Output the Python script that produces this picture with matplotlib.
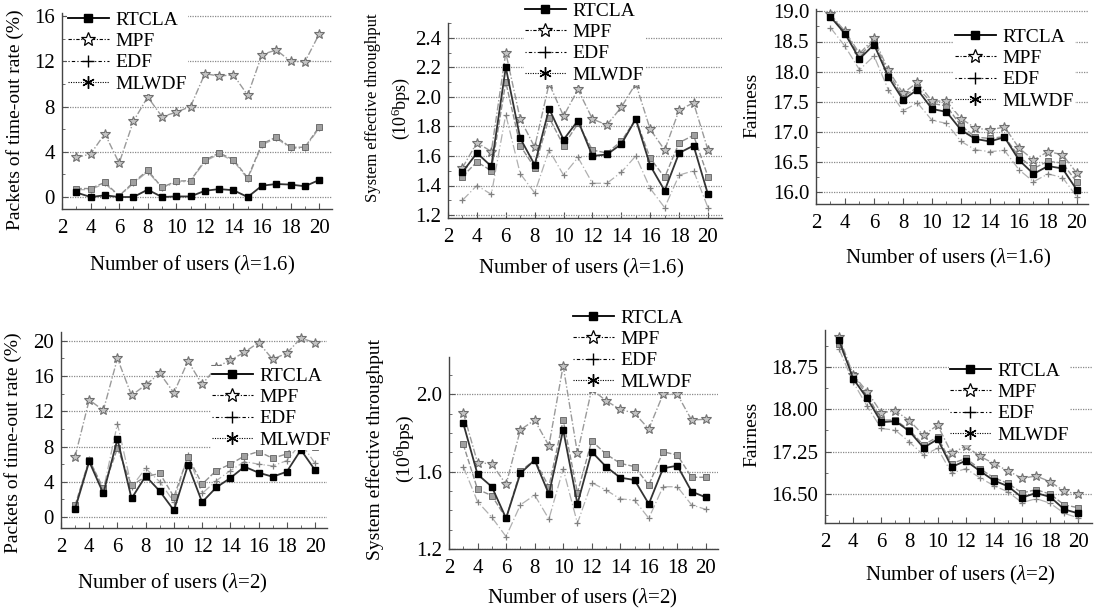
import matplotlib
matplotlib.use("Agg")
import matplotlib.pyplot as plt
from matplotlib.lines import Line2D
from matplotlib.ticker import MultipleLocator, FixedLocator, FormatStrFormatter

plt.rcParams['font.family'] = ['Liberation Serif', 'DejaVu Serif']
plt.rcParams['mathtext.fontset'] = 'custom'
plt.rcParams['mathtext.rm'] = 'Liberation Serif'
plt.rcParams['mathtext.it'] = 'Liberation Serif:italic'

W, H = 1101, 610

# ---------------- data ----------------
users = list(range(3, 21))
series_names = ["RTCLA", "MPF", "EDF", "MLWDF"]

# lambda = 1.6, packets of time-out rate (%)
rt1 = [0.4, 0.0, 0.15, 0.0, 0.0, 0.65, 0.0, 0.05, 0.05, 0.55, 0.7, 0.6, 0.0, 1.0, 1.15, 1.1, 0.95, 1.5]
mpf1 = [3.5, 3.8, 5.6, 3.0, 6.7, 8.85, 7.1, 7.5, 8.0, 10.9, 10.7, 10.8, 9.0, 12.6, 13.0, 12.0, 11.95, 14.4]
edf1 = [0.65, 0.65, 1.2, 0.05, 1.2, 2.25, 0.8, 1.3, 1.4, 3.15, 3.8, 3.2, 1.6, 4.6, 5.2, 4.3, 4.3, 6.1]
ml1 = [0.75, 0.75, 1.3, 0.1, 1.3, 2.35, 0.85, 1.4, 1.45, 3.25, 3.9, 3.3, 1.7, 4.7, 5.3, 4.4, 4.4, 6.2]

# lambda = 1.6, system effective throughput (10^6 bps)
rt2 = [1.49, 1.62, 1.53, 2.20, 1.72, 1.54, 1.92, 1.71, 1.84, 1.60, 1.61, 1.68, 1.85, 1.535, 1.365, 1.62, 1.67, 1.34]
mpf2 = [1.52, 1.69, 1.63, 2.30, 1.85, 1.66, 2.09, 1.87, 2.05, 1.85, 1.81, 1.93, 2.09, 1.78, 1.64, 1.91, 1.96, 1.64]
edf2 = [1.30, 1.40, 1.34, 1.88, 1.48, 1.35, 1.64, 1.47, 1.59, 1.415, 1.415, 1.49, 1.60, 1.38, 1.25, 1.47, 1.50, 1.25]
ml2 = [1.46, 1.56, 1.50, 2.10, 1.67, 1.52, 1.86, 1.67, 1.82, 1.64, 1.62, 1.70, 1.85, 1.585, 1.455, 1.69, 1.74, 1.46]

# lambda = 1.6, fairness
rt3 = [18.91, 18.63, 18.21, 18.45, 17.91, 17.53, 17.70, 17.38, 17.33, 17.03, 16.88, 16.84, 16.91, 16.53, 16.30, 16.43, 16.39, 16.03]
mpf3 = [18.95, 18.67, 18.30, 18.55, 18.02, 17.64, 17.82, 17.51, 17.51, 17.22, 17.06, 17.03, 17.08, 16.73, 16.53, 16.67, 16.62, 16.31]
edf3 = [18.73, 18.42, 18.03, 18.26, 17.69, 17.35, 17.48, 17.19, 17.14, 16.84, 16.70, 16.67, 16.69, 16.37, 16.17, 16.30, 16.24, 15.92]
ml3 = [18.93, 18.66, 18.26, 18.51, 17.97, 17.58, 17.74, 17.47, 17.43, 17.10, 16.91, 16.89, 16.92, 16.59, 16.39, 16.51, 16.48, 16.16]

# lambda = 2, packets of time-out rate (%)
rt4 = [0.95, 6.3, 2.67, 8.84, 2.1, 4.65, 2.93, 0.76, 5.9, 1.68, 3.35, 4.42, 5.71, 5.03, 4.57, 5.14, 7.62, 5.33]
mpf4 = [6.86, 13.3, 12.1, 18.0, 13.8, 15.0, 16.3, 14.1, 17.7, 15.05, 17.0, 17.8, 18.7, 19.8, 17.9, 18.6, 20.3, 19.8]
edf4 = [1.14, 6.55, 3.05, 10.6, 3.43, 5.52, 4.0, 1.71, 7.05, 2.67, 4.11, 5.26, 6.29, 6.0, 5.79, 6.4, 8.4, 6.1]
ml4 = [1.33, 6.5, 3.24, 7.8, 3.6, 4.57, 4.95, 2.29, 6.86, 3.73, 5.26, 6.0, 6.93, 7.43, 6.67, 7.16, 9.3, 8.0]

# lambda = 2, system effective throughput (10^6 bps)
rt5 = [1.85, 1.586, 1.522, 1.359, 1.591, 1.66, 1.484, 1.816, 1.433, 1.703, 1.626, 1.569, 1.557, 1.433, 1.617, 1.631, 1.497, 1.467]
mpf5 = [1.905, 1.647, 1.64, 1.534, 1.816, 1.867, 1.734, 2.148, 1.695, 2.026, 1.967, 1.922, 1.902, 1.821, 2.0, 2.0, 1.867, 1.871]
edf5 = [1.626, 1.445, 1.364, 1.264, 1.428, 1.479, 1.355, 1.614, 1.333, 1.543, 1.505, 1.459, 1.453, 1.359, 1.522, 1.522, 1.428, 1.405]
ml5 = [1.741, 1.509, 1.476, 1.359, 1.603, 1.66, 1.522, 1.867, 1.491, 1.759, 1.691, 1.643, 1.626, 1.531, 1.703, 1.686, 1.571, 1.571]

# lambda = 2, fairness
rt6 = [19.22, 18.54, 18.19, 17.77, 17.79, 17.61, 17.32, 17.47, 16.98, 17.09, 16.91, 16.74, 16.64, 16.44, 16.52, 16.45, 16.23, 16.16]
mpf6 = [19.28, 18.61, 18.31, 17.94, 17.97, 17.80, 17.54, 17.72, 17.22, 17.35, 17.17, 17.04, 16.91, 16.78, 16.82, 16.72, 16.55, 16.50]
edf6 = [19.06, 18.48, 18.05, 17.66, 17.63, 17.42, 17.19, 17.31, 16.87, 16.95, 16.79, 16.65, 16.54, 16.35, 16.42, 16.34, 16.16, 16.08]
ml6 = [19.16, 18.60, 18.25, 17.81, 17.81, 17.63, 17.37, 17.51, 17.04, 17.13, 16.95, 16.79, 16.69, 16.52, 16.58, 16.50, 16.31, 16.26]

x_ticks = [2, 4, 6, 8, 10, 12, 14, 16, 18, 20]
xlabel_16 = r'Number of users ($\mathit{\lambda}$=1.6)'
xlabel_2 = r'Number of users ($\mathit{\lambda}$=2)'
ylabel_timeout = 'Packets of time-out rate (%)'
ylabel_tp1 = 'System effective throughput'
ylabel_tp2 = r'(10$^{6}$bps)'
ylabel_fair = 'Fairness'

# ---------------- drawing ----------------
FS = 15       # tick labels and x labels
FS_LEG = 14
fig = plt.figure(figsize=(W / 100, H / 100), dpi=100)
fig.patch.set_facecolor('white')


def add_ax(l, r, t, b):
    return fig.add_axes([l / W, 1 - b / H, (r - l) / W, (b - t) / H])


def ftext(x, y, s, size=FS, **kw):
    fig.text(x / W, 1 - y / H, s, fontsize=size, ha='center', va='center', **kw)


styles = {
    "RTCLA": dict(color='#333333', lw=1.3, marker='s', ms=5, mfc='black', mec='black', zorder=5),
    "MPF": dict(color='#9a9a9a', lw=1.0, ls=(0, (5, 1.5, 1, 1.5)), marker='*', ms=7.5,
                mfc='#c4c4c4', mec='#707070', mew=0.8, zorder=4),
    "EDF": dict(color='#b0b0b0', lw=0.9, ls=(0, (7, 2, 1, 2)), marker='+', ms=5, mec='#808080',
                mew=0.9, zorder=3),
    "MLWDF": dict(color='#909090', lw=1.0, ls=(0, (4, 1.5)), marker='s', ms=3.8,
                  mfc='#a0a0a0', mec='#606060', mew=0.6, zorder=4),
}

leg_handles = [
    Line2D([], [], color='black', lw=1.3, marker='s', ms=6, mfc='black', mec='black'),
    Line2D([], [], color='black', lw=0.8, ls=(0, (3, 1.5, 1, 1.5)), marker='*', ms=10,
           mfc='white', mec='black', mew=0.9),
    Line2D([], [], color='black', lw=0.8, ls=(0, (1, 2, 3, 2)), marker='+', ms=9, mec='black', mew=1.0),
    Line2D([], [], color='black', lw=0.8, ls=(0, (1, 1.2)), marker=(6, 2, 0), ms=9, mec='black', mew=1.0),
]


def setup(ax, xlim, ylim, yticks, yminor, fmt=None):
    ax.set_xlim(*xlim)
    ax.set_ylim(*ylim)
    ax.xaxis.set_major_locator(FixedLocator(x_ticks))
    ax.xaxis.set_minor_locator(MultipleLocator(1))
    ax.yaxis.set_major_locator(FixedLocator(yticks))
    ax.yaxis.set_minor_locator(MultipleLocator(yminor))
    if fmt:
        ax.yaxis.set_major_formatter(FormatStrFormatter(fmt))
    for s in ['top', 'right']:
        ax.spines[s].set_visible(False)
    for s in ['left', 'bottom']:
        ax.spines[s].set_color('#444444')
        ax.spines[s].set_linewidth(1.0)
    ax.tick_params(which='both', direction='in', colors='#555555', labelcolor='black',
                   labelsize=FS)
    ax.tick_params(which='major', length=4, width=0.8)
    ax.tick_params(which='minor', length=2.5, width=0.6)
    ax.tick_params(axis='x', pad=7)
    ax.tick_params(axis='y', pad=5)
    ax.grid(axis='y', which='major', color='#8a8a8a', ls=(0, (1, 1)), lw=0.9)
    ax.set_axisbelow(True)


def draw(ax, rt, mpf, edf, ml):
    vals = {"RTCLA": rt, "MPF": mpf, "EDF": edf, "MLWDF": ml}
    for name in ["EDF", "MLWDF", "MPF", "RTCLA"]:
        ax.plot(users, vals[name], **styles[name])


def legend(ax, hx, hy):
    fsz = FS_LEG * 100 / 72
    bp = 0.05
    lg = ax.legend(leg_handles, series_names, loc='upper left',
                   bbox_to_anchor=((hx - bp * fsz) / W, 1 - (hy - 0.45 * fsz - bp * fsz) / H),
                   bbox_transform=fig.transFigure, fontsize=FS_LEG, frameon=True, framealpha=1,
                   fancybox=False, borderpad=bp, labelspacing=0.19, handlelength=2.1,
                   handletextpad=0.35, borderaxespad=0)
    lg.get_frame().set_edgecolor('none')
    lg.get_frame().set_facecolor('white')
    lg.set_zorder(10)


# Panel 1
ax1 = add_ax(62, 332, 13, 209)
setup(ax1, (2, 20.9), (-1.06, 16.27), [0, 4, 8, 12, 16], 2)
draw(ax1, rt1, mpf1, edf1, ml1)
legend(ax1, 68, 20)
ftext(192, 265, xlabel_16)
ftext(15, 120, ylabel_timeout, size=14, rotation=90)

# Panel 2
ax2 = add_ax(448, 722, 23, 218)
setup(ax2, (2, 20.97), (1.18, 2.50), [1.2, 1.4, 1.6, 1.8, 2.0, 2.2, 2.4], 0.1, '%.1f')
draw(ax2, rt2, mpf2, edf2, ml2)
legend(ax2, 525, 11)
ftext(581, 268, xlabel_16)
ftext(373, 108, ylabel_tp1, size=12, rotation=90)
ftext(401, 108, ylabel_tp2, size=13, rotation=90)

# Panel 3
ax3 = add_ax(816, 1088, 9, 204)
setup(ax3, (2, 20.76), (15.8, 19.04), [16.0, 16.5, 17.0, 17.5, 18.0, 18.5, 19.0], 0.25, '%.1f')
draw(ax3, rt3, mpf3, edf3, ml3)
legend(ax3, 955, 37)
ftext(948, 258, xlabel_16)
ftext(752, 105, ylabel_fair, size=14, rotation=90)

# Panel 4
ax4 = add_ax(61, 327, 332, 528)
setup(ax4, (2, 20.85), (-1.25, 21.0), [0, 4, 8, 12, 16, 20], 2)
draw(ax4, rt4, mpf4, edf4, ml4)
legend(ax4, 212, 376)
ftext(172, 583, xlabel_2)
ftext(13, 443, ylabel_timeout, size=14, rotation=90)

# Panel 5
ax5 = add_ax(449, 718, 357, 549)
setup(ax5, (2, 20.85), (1.2, 2.193), [1.2, 1.6, 2.0], 0.1, '%.1f')
draw(ax5, rt5, mpf5, edf5, ml5)
legend(ax5, 573, 318)
ftext(582, 598, xlabel_2)
ftext(375, 449, ylabel_tp1, size=14, rotation=90)
ftext(405, 449, ylabel_tp2, size=14, rotation=90)

# Panel 6
ax6 = add_ax(825, 1092, 330, 523)
setup(ax6, (2, 20.97), (15.99, 19.40), [16.5, 17.25, 18.0, 18.75], 0.375, '%.2f')
draw(ax6, rt6, mpf6, edf6, ml6)
legend(ax6, 950, 371)
ftext(960, 575, xlabel_2)
ftext(752, 434, ylabel_fair, size=14, rotation=90)

fig.savefig('out.png', dpi=100, facecolor='white')
